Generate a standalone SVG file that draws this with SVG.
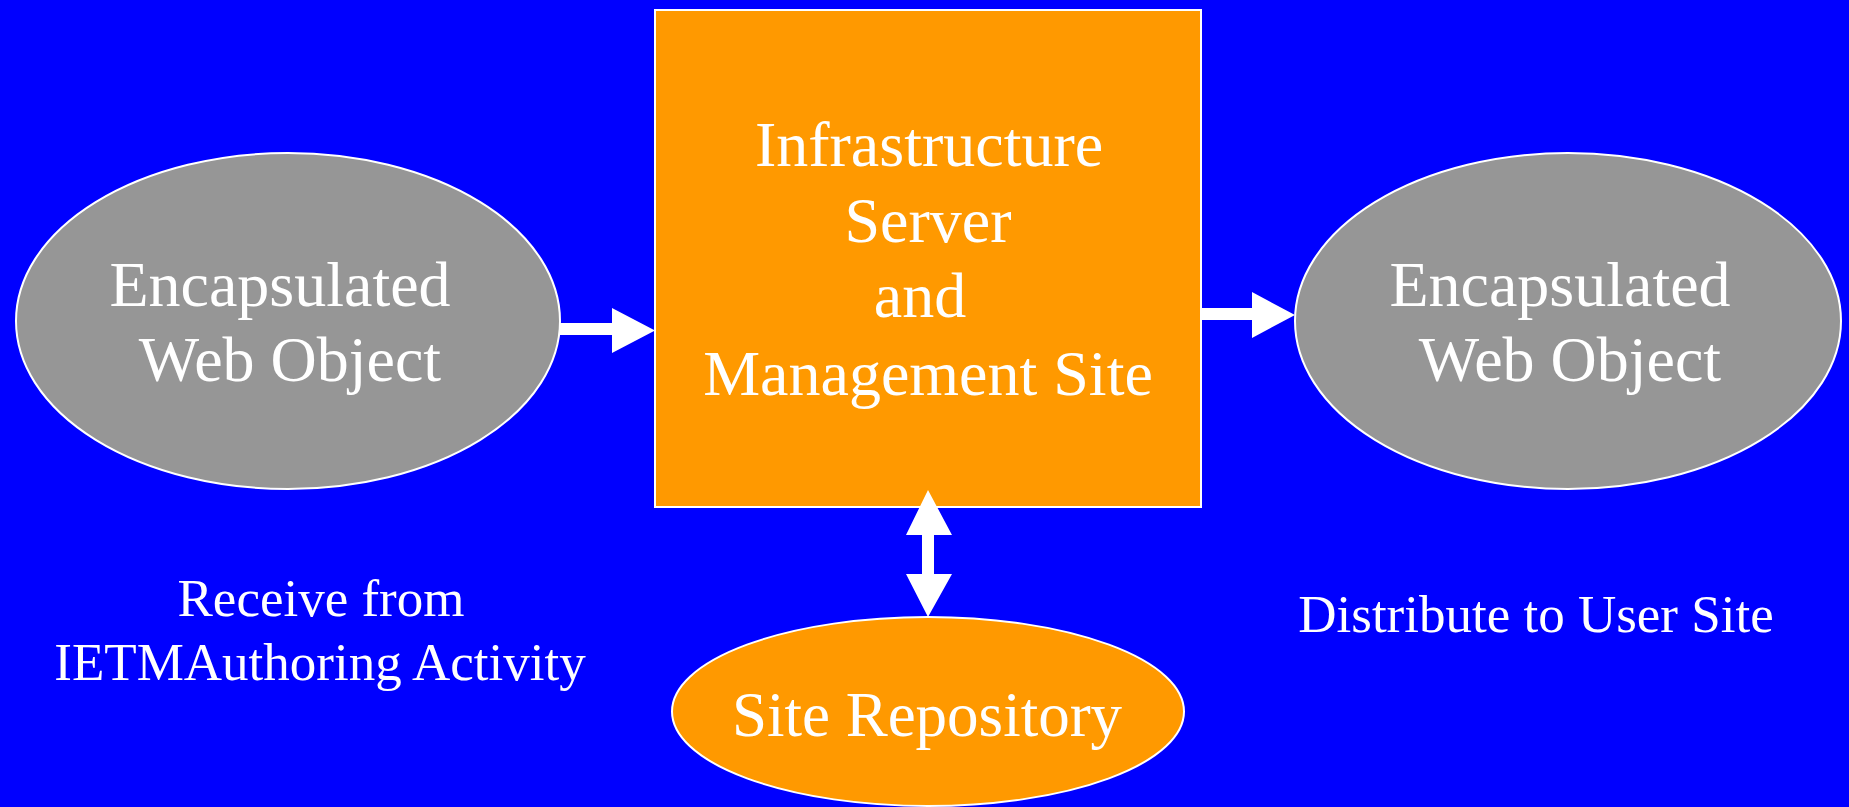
<svg xmlns="http://www.w3.org/2000/svg" width="1849" height="807" viewBox="0 0 1849 807">
<style>
  .lbl { font-family: "Liberation Serif", "Times New Roman", serif; fill: #ffffff; text-anchor: middle; }
  .big { font-size: 64px; }
  .mid { font-size: 63px; }
  .small { font-size: 53px; }
  .gray { fill: #969696; stroke: #ffffff; stroke-width: 2; }
  .orange { fill: #ff9900; stroke: #ffffff; stroke-width: 2; }
  .arrow { fill: #ffffff; stroke: none; }
</style>
<rect x="0" y="0" width="1849" height="807" fill="#0000ff"/>
<g id="node-left">
  <ellipse class="gray" cx="288" cy="321" rx="272" ry="168"/>
  <text class="lbl big" x="280" y="306">Encapsulated</text>
  <text class="lbl big" x="290" y="381">Web Object</text>
</g>
<g id="node-server">
  <rect class="orange" x="655" y="10" width="546" height="497"/>
  <text class="lbl big" x="929" y="166">Infrastructure</text>
  <text class="lbl big" x="928" y="242">Server</text>
  <text class="lbl big" x="920" y="317">and</text>
  <text class="lbl big" x="928" y="395">Management Site</text>
</g>
<g id="node-right">
  <ellipse class="gray" cx="1568" cy="321" rx="273" ry="168"/>
  <text class="lbl big" x="1560" y="306">Encapsulated</text>
  <text class="lbl big" x="1570" y="381">Web Object</text>
</g>
<g id="node-repository">
  <ellipse class="orange" cx="928" cy="711.5" rx="256" ry="94.5"/>
  <text class="lbl mid" x="927" y="736">Site Repository</text>
</g>
<g id="label-receive">
  <text class="lbl small" x="321" y="616">Receive from</text>
  <text class="lbl small" x="320" y="680">IETMAuthoring Activity</text>
</g>
<g id="label-distribute">
  <text class="lbl small" x="1536" y="632">Distribute to User Site</text>
</g>
<g id="connectors">
  <polygon class="arrow" points="560,323 612,323 612,308 655,330.5 612,353 612,335 560,335"/>
  <polygon class="arrow" points="1201,308 1252,308 1252,292 1295,315 1252,338 1252,320 1201,320"/>
  <polygon class="arrow" points="928,490 952,535 934,535 934,574 952,574 928,617 906,574 922,574 922,535 906,535"/>
</g>
</svg>
